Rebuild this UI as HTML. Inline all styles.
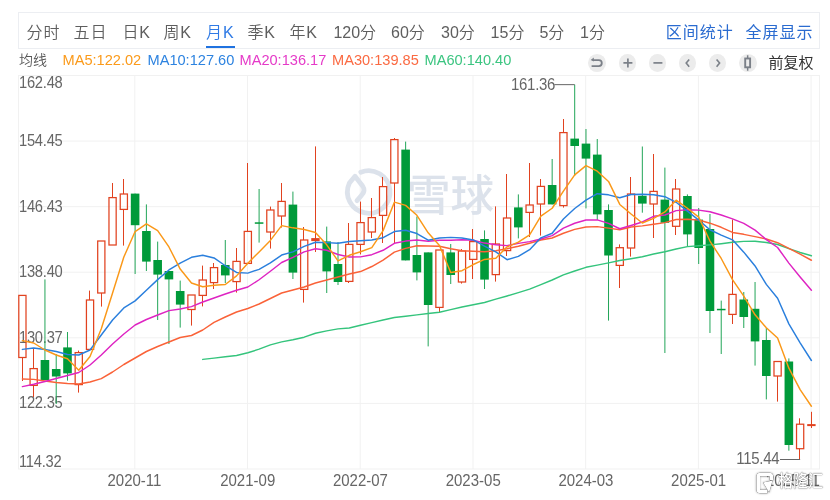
<!DOCTYPE html>
<html><head><meta charset="utf-8">
<style>
*{margin:0;padding:0;box-sizing:border-box}
html,body{width:830px;height:500px;overflow:hidden;background:#fff}
body{position:relative;font-family:"Liberation Sans","Noto Sans CJK SC",sans-serif;color:#333}
.box{position:absolute;left:18px;top:12px;width:802px;height:37px;border:1px solid #eceef2;border-right-color:#eceef2}
.tab{position:absolute;top:23px;letter-spacing:1px;font-size:16px;line-height:20px;color:#5e5e5e;white-space:nowrap;font-weight:350}
.tab.act{color:#2f7ae5}
.uline{position:absolute;left:205.6px;top:45.5px;width:29px;height:2.5px;background:#1f72e0}
.rt{position:absolute;top:23px;letter-spacing:1px;font-size:16px;line-height:20px;color:#2a6bd0;white-space:nowrap;font-weight:400}
.leg{position:absolute;top:51.2px;font-size:14.6px;transform:scaleY(1.06);transform-origin:0 0;line-height:16px;white-space:nowrap}
.jx{position:absolute;left:19px;top:51.5px;font-size:14px;line-height:16px;color:#555;font-weight:350}
.fq{position:absolute;left:768.5px;top:55px;font-size:15px;line-height:16px;color:#333}
.ic{position:absolute;top:54px;width:17.8px;height:17.8px;border-radius:50%;background:#ececec}
.ic svg{position:absolute;left:0;top:0}
.yl{position:absolute;left:19.3px;font-size:15px;line-height:15px;letter-spacing:-0.25px;transform:scale(0.98,1.1);transform-origin:0 50%;color:#666;white-space:nowrap}
.xl{position:absolute;top:473px;font-size:15px;line-height:15px;transform:scale(1,1.08);transform-origin:0 50%;color:#666;white-space:nowrap}
.mk{position:absolute;font-size:15px;line-height:15px;letter-spacing:-0.3px;transform:scale(1,1.08);transform-origin:0 50%;color:#666}
.glh{position:absolute;left:777.5px;top:471.2px;font-size:17.5px;line-height:21px;color:#fff;font-family:"Liberation Sans","Noto Sans CJK SC",sans-serif;font-weight:500;transform:scaleX(0.86);transform-origin:0 0;text-shadow:0 0 1px rgba(0,0,0,0.75),0 0 2px rgba(0,0,0,0.3)}
svg.chart{position:absolute;left:0;top:0}
</style></head><body>
<div class="box"></div>
<span class="tab" style="left:26.4px;letter-spacing:1px">分时</span>
<span class="tab" style="left:73.6px;letter-spacing:1px">五日</span>
<span class="tab" style="left:122.5px;letter-spacing:0.8px">日K</span>
<span class="tab" style="left:163.5px;letter-spacing:0.8px">周K</span>
<span class="tab act" style="left:206.1px;letter-spacing:0.8px">月K</span>
<span class="tab" style="left:247.5px;letter-spacing:0.8px">季K</span>
<span class="tab" style="left:289.5px;letter-spacing:0.8px">年K</span>
<span class="tab" style="left:333.4px;letter-spacing:0">120分</span>
<span class="tab" style="left:391.0px;letter-spacing:0">60分</span>
<span class="tab" style="left:441.0px;letter-spacing:0">30分</span>
<span class="tab" style="left:490.6px;letter-spacing:0">15分</span>
<span class="tab" style="left:539.4px;letter-spacing:0">5分</span>
<span class="tab" style="left:580.0px;letter-spacing:0">1分</span>
<div class="uline"></div>
<span class="rt" style="left:665.8px">区间统计</span>
<span class="rt" style="left:745.6px">全屏显示</span>
<span class="jx">均线</span>
<span class="leg" style="left:62.5px;color:#fb9a1a">MA5:122.02</span>
<span class="leg" style="left:147.5px;color:#2d83e0">MA10:127.60</span>
<span class="leg" style="left:239.5px;color:#e53ac8">MA20:136.17</span>
<span class="leg" style="left:332px;color:#fb6a42">MA30:139.85</span>
<span class="leg" style="left:424.5px;color:#3cc581">MA60:140.40</span>
<div class="ic" style="left:588.4px"><svg width="17.8" height="17.8" viewBox="0 0 17.8 17.8"><path d="M4.6 6.1 H10.8 A3 3 0 0 1 10.8 12.1 H3.6" fill="none" stroke="#7b8088" stroke-width="1.8"/><path d="M2.6 6.1 L5.8 3.4 L5.8 7.6 Z" fill="#7b8088"/></svg></div>
<div class="ic" style="left:618.5px"><svg width="17.8" height="17.8" viewBox="0 0 17.8 17.8"><path d="M4.4 8.9 H13.4 M8.9 4.4 V13.4" fill="none" stroke="#7b8088" stroke-width="1.7"/></svg></div>
<div class="ic" style="left:648.7px"><svg width="17.8" height="17.8" viewBox="0 0 17.8 17.8"><path d="M4.4 8.9 H13.4" fill="none" stroke="#7b8088" stroke-width="1.7"/></svg></div>
<div class="ic" style="left:678.5px"><svg width="17.8" height="17.8" viewBox="0 0 17.8 17.8"><path d="M10.2 5.5 L7.2 9.1 L10.2 12.7" fill="none" stroke="#7b8088" stroke-width="1.6"/></svg></div>
<div class="ic" style="left:708.7px"><svg width="17.8" height="17.8" viewBox="0 0 17.8 17.8"><path d="M7.6 5.5 L10.6 9.1 L7.6 12.7" fill="none" stroke="#7b8088" stroke-width="1.6"/></svg></div>
<div class="ic" style="left:738.9px"><svg width="17.8" height="17.8" viewBox="0 0 17.8 17.8"><rect x="6.2" y="4.5" width="4.9" height="8.8" fill="none" stroke="#7b8088" stroke-width="1.9"/><path d="M8.65 1.3 V4.5 M8.65 13.3 V16.7" stroke="#7b8088" stroke-width="1.5"/></svg></div>
<span class="fq">前复权</span>
<svg class="chart" width="830" height="500" viewBox="0 0 830 500">
<line x1="18" y1="141.1" x2="819.5" y2="141.1" stroke="#f1f1f1" stroke-width="1"/>
<line x1="18" y1="206.7" x2="819.5" y2="206.7" stroke="#f1f1f1" stroke-width="1"/>
<line x1="18" y1="272.2" x2="819.5" y2="272.2" stroke="#f1f1f1" stroke-width="1"/>
<line x1="18" y1="337.8" x2="819.5" y2="337.8" stroke="#f1f1f1" stroke-width="1"/>
<line x1="18" y1="403.4" x2="819.5" y2="403.4" stroke="#f1f1f1" stroke-width="1"/>
<line x1="134.8" y1="75.5" x2="134.8" y2="469" stroke="#f1f1f1" stroke-width="1"/>
<line x1="247.5" y1="75.5" x2="247.5" y2="469" stroke="#f1f1f1" stroke-width="1"/>
<line x1="360.2" y1="75.5" x2="360.2" y2="469" stroke="#f1f1f1" stroke-width="1"/>
<line x1="473.0" y1="75.5" x2="473.0" y2="469" stroke="#f1f1f1" stroke-width="1"/>
<line x1="585.7" y1="75.5" x2="585.7" y2="469" stroke="#f1f1f1" stroke-width="1"/>
<line x1="698.4" y1="75.5" x2="698.4" y2="469" stroke="#f1f1f1" stroke-width="1"/>
<line x1="811.1" y1="75.5" x2="811.1" y2="469" stroke="#f1f1f1" stroke-width="1"/>
<rect x="18.5" y="75.5" width="801" height="393.5" fill="none" stroke="#f1f1f1" stroke-width="1"/>
</svg>
<svg class="chart" width="830" height="500" viewBox="0 0 830 500"><g fill="none" stroke="#dce2eb" stroke-width="4.8" stroke-linecap="round" stroke-linejoin="round"><path d="M360.8 172.2 A21.3 21.3 0 1 1 349.4 183 L355 176.2 L362.6 186 Q365.8 190.6 361.6 195.2 L357 200.6"/></g>
<text x="407" y="210.5" font-family="Liberation Sans, Noto Sans CJK SC, sans-serif" font-weight="500" font-size="43.5" fill="#dce2eb">雪球</text></svg>
<span class="yl" style="top:73.8px">162.48</span>
<span class="yl" style="top:132.0px">154.45</span>
<span class="yl" style="top:197.6px">146.43</span>
<span class="yl" style="top:263.1px">138.40</span>
<span class="yl" style="top:328.7px">130.37</span>
<span class="yl" style="top:394.3px">122.35</span>
<span class="yl" style="top:452.9px">114.32</span>
<span class="xl" style="left:107.5px">2020-11</span>
<span class="xl" style="left:220.2px">2021-09</span>
<span class="xl" style="left:332.9px">2022-07</span>
<span class="xl" style="left:445.7px">2023-05</span>
<span class="xl" style="left:558.4px">2024-03</span>
<span class="xl" style="left:671.1px">2025-01</span>
<span class="xl" style="left:766px">2025-11</span>
<svg class="chart" width="830" height="500" viewBox="0 0 830 500">
<line x1="22.50" y1="295.4" x2="22.50" y2="295.4" stroke="#e1421f"/>
<line x1="22.50" y1="357.5" x2="22.50" y2="381" stroke="#e1421f"/>
<rect x="18.80" y="295.4" width="7.2" height="62.10" fill="none" stroke="#e1421f" stroke-width="1.25"/>
<line x1="33.50" y1="349" x2="33.50" y2="368.6" stroke="#e1421f"/>
<line x1="33.50" y1="385.4" x2="33.50" y2="397" stroke="#e1421f"/>
<rect x="30.07" y="368.6" width="7.2" height="16.80" fill="none" stroke="#e1421f" stroke-width="1.25"/>
<line x1="44.94" y1="279.4" x2="44.94" y2="380" stroke="#22a558"/>
<rect x="40.64" y="360" width="8.6" height="20.00" fill="#009a3a"/>
<line x1="56.21" y1="354" x2="56.21" y2="404" stroke="#22a558"/>
<rect x="51.91" y="369" width="8.6" height="7.50" fill="#009a3a"/>
<line x1="67.49" y1="332" x2="67.49" y2="380.6" stroke="#22a558"/>
<rect x="63.19" y="347.4" width="8.6" height="26.00" fill="#009a3a"/>
<line x1="78.50" y1="350.6" x2="78.50" y2="352.6" stroke="#e1421f"/>
<line x1="78.50" y1="384.6" x2="78.50" y2="392.6" stroke="#e1421f"/>
<rect x="75.16" y="352.6" width="7.2" height="32.00" fill="none" stroke="#e1421f" stroke-width="1.25"/>
<line x1="89.50" y1="290.6" x2="89.50" y2="300" stroke="#e1421f"/>
<line x1="89.50" y1="349.4" x2="89.50" y2="349.4" stroke="#e1421f"/>
<rect x="86.43" y="300" width="7.2" height="49.40" fill="none" stroke="#e1421f" stroke-width="1.25"/>
<line x1="101.50" y1="241" x2="101.50" y2="241" stroke="#e1421f"/>
<line x1="101.50" y1="293" x2="101.50" y2="306.6" stroke="#e1421f"/>
<rect x="97.70" y="241" width="7.2" height="52.00" fill="none" stroke="#e1421f" stroke-width="1.25"/>
<line x1="112.50" y1="183" x2="112.50" y2="197.6" stroke="#e1421f"/>
<line x1="112.50" y1="245" x2="112.50" y2="245" stroke="#e1421f"/>
<rect x="108.97" y="197.6" width="7.2" height="47.40" fill="none" stroke="#e1421f" stroke-width="1.25"/>
<line x1="123.50" y1="179" x2="123.50" y2="194" stroke="#e1421f"/>
<line x1="123.50" y1="209.4" x2="123.50" y2="245.6" stroke="#e1421f"/>
<rect x="120.24" y="194" width="7.2" height="15.40" fill="none" stroke="#e1421f" stroke-width="1.25"/>
<line x1="135.12" y1="193.6" x2="135.12" y2="274" stroke="#22a558"/>
<rect x="130.81" y="193.6" width="8.6" height="31.60" fill="#009a3a"/>
<line x1="146.39" y1="204.4" x2="146.39" y2="271" stroke="#22a558"/>
<rect x="142.09" y="231" width="8.6" height="30.60" fill="#009a3a"/>
<line x1="157.66" y1="241.6" x2="157.66" y2="320" stroke="#22a558"/>
<rect x="153.36" y="260" width="8.6" height="14.60" fill="#009a3a"/>
<line x1="168.93" y1="271" x2="168.93" y2="344" stroke="#22a558"/>
<rect x="164.63" y="271" width="8.6" height="8.40" fill="#009a3a"/>
<line x1="180.20" y1="280.6" x2="180.20" y2="327.6" stroke="#22a558"/>
<rect x="175.90" y="291" width="8.6" height="13.60" fill="#009a3a"/>
<line x1="191.50" y1="295" x2="191.50" y2="295" stroke="#e1421f"/>
<line x1="191.50" y1="309.5" x2="191.50" y2="325.6" stroke="#e1421f"/>
<rect x="187.87" y="295" width="7.2" height="14.50" fill="none" stroke="#e1421f" stroke-width="1.25"/>
<line x1="202.50" y1="265.6" x2="202.50" y2="280" stroke="#e1421f"/>
<line x1="202.50" y1="295.4" x2="202.50" y2="306.4" stroke="#e1421f"/>
<rect x="199.14" y="280" width="7.2" height="15.40" fill="none" stroke="#e1421f" stroke-width="1.25"/>
<line x1="213.50" y1="263" x2="213.50" y2="267.6" stroke="#e1421f"/>
<line x1="213.50" y1="282.6" x2="213.50" y2="289" stroke="#e1421f"/>
<rect x="210.42" y="267.6" width="7.2" height="15.00" fill="none" stroke="#e1421f" stroke-width="1.25"/>
<line x1="225.29" y1="240" x2="225.29" y2="283" stroke="#22a558"/>
<rect x="220.99" y="265" width="8.6" height="10.40" fill="#009a3a"/>
<line x1="236.50" y1="248" x2="236.50" y2="261.4" stroke="#e1421f"/>
<line x1="236.50" y1="281.6" x2="236.50" y2="292.6" stroke="#e1421f"/>
<rect x="232.96" y="261.4" width="7.2" height="20.20" fill="none" stroke="#e1421f" stroke-width="1.25"/>
<line x1="247.50" y1="163" x2="247.50" y2="231.4" stroke="#e1421f"/>
<line x1="247.50" y1="263.4" x2="247.50" y2="263.4" stroke="#e1421f"/>
<rect x="244.23" y="231.4" width="7.2" height="32.00" fill="none" stroke="#e1421f" stroke-width="1.25"/>
<line x1="259.10" y1="189" x2="259.10" y2="242.6" stroke="#22a558"/>
<rect x="254.80" y="222.3" width="8.6" height="1.50" fill="#009a3a"/>
<line x1="270.50" y1="206.6" x2="270.50" y2="210" stroke="#e1421f"/>
<line x1="270.50" y1="232" x2="270.50" y2="248.6" stroke="#e1421f"/>
<rect x="266.77" y="210" width="7.2" height="22.00" fill="none" stroke="#e1421f" stroke-width="1.25"/>
<line x1="281.50" y1="183" x2="281.50" y2="201.4" stroke="#e1421f"/>
<line x1="281.50" y1="216" x2="281.50" y2="227.6" stroke="#e1421f"/>
<rect x="278.04" y="201.4" width="7.2" height="14.60" fill="none" stroke="#e1421f" stroke-width="1.25"/>
<line x1="292.92" y1="191.6" x2="292.92" y2="279" stroke="#22a558"/>
<rect x="288.62" y="204.6" width="8.6" height="68.00" fill="#009a3a"/>
<line x1="303.50" y1="227" x2="303.50" y2="240" stroke="#e1421f"/>
<line x1="303.50" y1="289.4" x2="303.50" y2="302.6" stroke="#e1421f"/>
<rect x="300.59" y="240" width="7.2" height="49.40" fill="none" stroke="#e1421f" stroke-width="1.25"/>
<line x1="315.50" y1="146.4" x2="315.50" y2="252" stroke="#e1421f"/>
<rect x="311.26" y="238.10" width="8.4" height="3.00" fill="#e1421f"/>
<line x1="326.73" y1="226.6" x2="326.73" y2="293" stroke="#22a558"/>
<rect x="322.43" y="241.4" width="8.6" height="30.00" fill="#009a3a"/>
<line x1="338.00" y1="242" x2="338.00" y2="285" stroke="#22a558"/>
<rect x="333.70" y="264" width="8.6" height="18.00" fill="#009a3a"/>
<line x1="348.50" y1="223" x2="348.50" y2="244.4" stroke="#e1421f"/>
<line x1="348.50" y1="281.4" x2="348.50" y2="283" stroke="#e1421f"/>
<rect x="345.67" y="244.4" width="7.2" height="37.00" fill="none" stroke="#e1421f" stroke-width="1.25"/>
<line x1="360.50" y1="201.6" x2="360.50" y2="222.6" stroke="#e1421f"/>
<line x1="360.50" y1="244.4" x2="360.50" y2="254.4" stroke="#e1421f"/>
<rect x="356.94" y="222.6" width="7.2" height="21.80" fill="none" stroke="#e1421f" stroke-width="1.25"/>
<line x1="371.50" y1="198" x2="371.50" y2="217.6" stroke="#e1421f"/>
<line x1="371.50" y1="232" x2="371.50" y2="238" stroke="#e1421f"/>
<rect x="368.22" y="217.6" width="7.2" height="14.40" fill="none" stroke="#e1421f" stroke-width="1.25"/>
<line x1="382.50" y1="177" x2="382.50" y2="186.6" stroke="#e1421f"/>
<line x1="382.50" y1="215.4" x2="382.50" y2="243" stroke="#e1421f"/>
<rect x="379.49" y="186.6" width="7.2" height="28.80" fill="none" stroke="#e1421f" stroke-width="1.25"/>
<line x1="394.50" y1="138" x2="394.50" y2="139.6" stroke="#e1421f"/>
<line x1="394.50" y1="183" x2="394.50" y2="243" stroke="#e1421f"/>
<rect x="390.76" y="139.6" width="7.2" height="43.40" fill="none" stroke="#e1421f" stroke-width="1.25"/>
<line x1="405.63" y1="141.6" x2="405.63" y2="260.4" stroke="#22a558"/>
<rect x="401.33" y="149.6" width="8.6" height="110.80" fill="#009a3a"/>
<line x1="416.90" y1="216.5" x2="416.90" y2="280.4" stroke="#22a558"/>
<rect x="412.60" y="255" width="8.6" height="17.40" fill="#009a3a"/>
<line x1="428.17" y1="252.4" x2="428.17" y2="346.4" stroke="#22a558"/>
<rect x="423.87" y="252.4" width="8.6" height="52.60" fill="#009a3a"/>
<line x1="439.50" y1="250" x2="439.50" y2="250" stroke="#e1421f"/>
<line x1="439.50" y1="307.4" x2="439.50" y2="312.4" stroke="#e1421f"/>
<rect x="435.85" y="250" width="7.2" height="57.40" fill="none" stroke="#e1421f" stroke-width="1.25"/>
<line x1="450.72" y1="244" x2="450.72" y2="284" stroke="#22a558"/>
<rect x="446.42" y="252.4" width="8.6" height="22.60" fill="#009a3a"/>
<line x1="461.50" y1="249" x2="461.50" y2="251" stroke="#e1421f"/>
<line x1="461.50" y1="282" x2="461.50" y2="283.6" stroke="#e1421f"/>
<rect x="458.39" y="251" width="7.2" height="31.00" fill="none" stroke="#e1421f" stroke-width="1.25"/>
<line x1="472.50" y1="229" x2="472.50" y2="241.6" stroke="#e1421f"/>
<line x1="472.50" y1="259.4" x2="472.50" y2="279" stroke="#e1421f"/>
<rect x="469.66" y="241.6" width="7.2" height="17.80" fill="none" stroke="#e1421f" stroke-width="1.25"/>
<line x1="484.53" y1="230.4" x2="484.53" y2="289" stroke="#22a558"/>
<rect x="480.23" y="239" width="8.6" height="40.60" fill="#009a3a"/>
<line x1="495.50" y1="206.4" x2="495.50" y2="244" stroke="#e1421f"/>
<line x1="495.50" y1="274.6" x2="495.50" y2="281.6" stroke="#e1421f"/>
<rect x="492.20" y="244" width="7.2" height="30.60" fill="none" stroke="#e1421f" stroke-width="1.25"/>
<line x1="506.50" y1="174" x2="506.50" y2="218" stroke="#e1421f"/>
<line x1="506.50" y1="250.6" x2="506.50" y2="256" stroke="#e1421f"/>
<rect x="503.47" y="218" width="7.2" height="32.60" fill="none" stroke="#e1421f" stroke-width="1.25"/>
<line x1="518.35" y1="194.4" x2="518.35" y2="238.4" stroke="#22a558"/>
<rect x="514.05" y="207.4" width="8.6" height="20.00" fill="#009a3a"/>
<line x1="529.50" y1="163" x2="529.50" y2="205" stroke="#e1421f"/>
<line x1="529.50" y1="212.4" x2="529.50" y2="237" stroke="#e1421f"/>
<rect x="526.02" y="205" width="7.2" height="7.40" fill="none" stroke="#e1421f" stroke-width="1.25"/>
<line x1="540.50" y1="179" x2="540.50" y2="186.4" stroke="#e1421f"/>
<line x1="540.50" y1="204" x2="540.50" y2="235.6" stroke="#e1421f"/>
<rect x="537.29" y="186.4" width="7.2" height="17.60" fill="none" stroke="#e1421f" stroke-width="1.25"/>
<line x1="552.16" y1="159" x2="552.16" y2="204.4" stroke="#22a558"/>
<rect x="547.86" y="185" width="8.6" height="19.40" fill="#009a3a"/>
<line x1="563.50" y1="119" x2="563.50" y2="132.6" stroke="#e1421f"/>
<line x1="563.50" y1="205.6" x2="563.50" y2="207.6" stroke="#e1421f"/>
<rect x="559.83" y="132.6" width="7.2" height="73.00" fill="none" stroke="#e1421f" stroke-width="1.25"/>
<line x1="574.70" y1="84.65" x2="574.70" y2="176" stroke="#22a558"/>
<rect x="570.40" y="138.6" width="8.6" height="7.40" fill="#009a3a"/>
<line x1="585.97" y1="129" x2="585.97" y2="208.4" stroke="#22a558"/>
<rect x="581.67" y="143.6" width="8.6" height="15.00" fill="#009a3a"/>
<line x1="597.25" y1="139" x2="597.25" y2="220" stroke="#22a558"/>
<rect x="592.95" y="154.6" width="8.6" height="59.80" fill="#009a3a"/>
<line x1="608.52" y1="204.4" x2="608.52" y2="320.6" stroke="#22a558"/>
<rect x="604.22" y="210" width="8.6" height="45.50" fill="#009a3a"/>
<line x1="619.50" y1="244.4" x2="619.50" y2="247.7" stroke="#e1421f"/>
<line x1="619.50" y1="265.4" x2="619.50" y2="288" stroke="#e1421f"/>
<rect x="616.19" y="247.7" width="7.2" height="17.70" fill="none" stroke="#e1421f" stroke-width="1.25"/>
<line x1="630.50" y1="177" x2="630.50" y2="194" stroke="#e1421f"/>
<line x1="630.50" y1="248" x2="630.50" y2="256.6" stroke="#e1421f"/>
<rect x="627.46" y="194" width="7.2" height="54.00" fill="none" stroke="#e1421f" stroke-width="1.25"/>
<line x1="642.33" y1="146.5" x2="642.33" y2="212.7" stroke="#22a558"/>
<rect x="638.03" y="195.8" width="8.6" height="7.80" fill="#009a3a"/>
<line x1="653.50" y1="154" x2="653.50" y2="191.4" stroke="#e1421f"/>
<line x1="653.50" y1="204" x2="653.50" y2="238" stroke="#e1421f"/>
<rect x="650.00" y="191.4" width="7.2" height="12.60" fill="none" stroke="#e1421f" stroke-width="1.25"/>
<line x1="664.88" y1="167.6" x2="664.88" y2="353" stroke="#22a558"/>
<rect x="660.58" y="199.6" width="8.6" height="23.20" fill="#009a3a"/>
<line x1="675.50" y1="179" x2="675.50" y2="189" stroke="#e1421f"/>
<line x1="675.50" y1="226.3" x2="675.50" y2="235" stroke="#e1421f"/>
<rect x="672.55" y="189" width="7.2" height="37.30" fill="none" stroke="#e1421f" stroke-width="1.25"/>
<line x1="687.42" y1="194.4" x2="687.42" y2="246.6" stroke="#22a558"/>
<rect x="683.12" y="196" width="8.6" height="38.40" fill="#009a3a"/>
<line x1="698.69" y1="208" x2="698.69" y2="264" stroke="#22a558"/>
<rect x="694.39" y="219.6" width="8.6" height="28.40" fill="#009a3a"/>
<line x1="709.96" y1="214" x2="709.96" y2="333" stroke="#22a558"/>
<rect x="705.66" y="229" width="8.6" height="82.00" fill="#009a3a"/>
<line x1="721.23" y1="300.6" x2="721.23" y2="354" stroke="#22a558"/>
<rect x="716.93" y="308.8" width="8.6" height="1.50" fill="#009a3a"/>
<line x1="732.50" y1="219.5" x2="732.50" y2="294.4" stroke="#e1421f"/>
<line x1="732.50" y1="314.4" x2="732.50" y2="324" stroke="#e1421f"/>
<rect x="728.90" y="294.4" width="7.2" height="20.00" fill="none" stroke="#e1421f" stroke-width="1.25"/>
<line x1="743.78" y1="292" x2="743.78" y2="328" stroke="#22a558"/>
<rect x="739.48" y="299.5" width="8.6" height="17.50" fill="#009a3a"/>
<line x1="755.05" y1="282" x2="755.05" y2="365.6" stroke="#22a558"/>
<rect x="750.75" y="308.8" width="8.6" height="32.60" fill="#009a3a"/>
<line x1="766.32" y1="328" x2="766.32" y2="399.4" stroke="#22a558"/>
<rect x="762.02" y="340" width="8.6" height="36.00" fill="#009a3a"/>
<line x1="777.50" y1="361.5" x2="777.50" y2="361.5" stroke="#e1421f"/>
<line x1="777.50" y1="376" x2="777.50" y2="401.6" stroke="#e1421f"/>
<rect x="773.99" y="361.5" width="7.2" height="14.50" fill="none" stroke="#e1421f" stroke-width="1.25"/>
<line x1="788.86" y1="358.4" x2="788.86" y2="450.7" stroke="#22a558"/>
<rect x="784.56" y="361.5" width="8.6" height="83.50" fill="#009a3a"/>
<line x1="799.50" y1="418.3" x2="799.50" y2="424.2" stroke="#e1421f"/>
<line x1="799.50" y1="448.7" x2="799.50" y2="459.5" stroke="#e1421f"/>
<rect x="796.53" y="424.2" width="7.2" height="24.50" fill="none" stroke="#e1421f" stroke-width="1.25"/>
<line x1="811.50" y1="411.8" x2="811.50" y2="428" stroke="#e1421f"/>
<rect x="807.20" y="424.10" width="8.4" height="2.00" fill="#e1421f"/>
<polyline points="202.74,359.40 214.02,358.13 225.29,356.83 236.56,355.47 247.83,352.74 259.10,349.18 270.37,344.90 281.64,341.88 292.92,339.80 304.19,337.17 315.46,333.28 326.73,330.85 338.00,328.85 349.27,327.93 360.54,325.25 371.82,322.59 383.09,320.06 394.36,317.56 405.63,316.23 416.90,314.89 428.17,313.58 439.45,312.30 450.72,309.65 461.99,307.00 473.26,304.75 484.53,302.46 495.80,299.07 507.07,295.93 518.35,292.60 529.62,289.15 540.89,284.64 552.16,280.00 563.43,274.85 574.70,271.06 585.97,267.33 597.25,265.11 608.52,262.89 619.79,260.47 631.06,258.69 642.33,256.82 653.60,254.00 664.88,251.78 676.15,248.96 687.42,246.60 698.69,245.81 709.96,244.85 721.23,243.69 732.50,242.32 743.78,241.38 755.05,241.19 766.32,242.46 777.59,244.47 788.86,248.59 800.13,252.43 811.40,255.75" fill="none" stroke="#34c47c" stroke-width="1.45" stroke-linejoin="round" stroke-linecap="round"/>
<polyline points="22.40,379.00 33.67,379.40 44.94,381.00 56.21,382.50 67.49,383.50 78.76,384.00 90.03,382.00 101.30,378.60 112.57,372.00 123.84,364.50 135.12,358.00 146.39,351.50 157.66,346.50 168.93,342.00 180.20,337.50 191.47,335.50 202.74,330.00 214.02,322.40 225.29,317.00 236.56,312.00 247.83,308.50 259.10,304.00 270.37,298.50 281.64,293.00 292.92,290.00 304.19,287.00 315.46,283.00 326.73,280.00 338.00,277.00 349.27,273.98 360.54,271.56 371.82,266.52 383.09,260.08 394.36,252.18 405.63,248.41 416.90,245.74 428.17,245.91 439.45,246.21 450.72,248.79 461.99,250.69 473.26,251.23 484.53,251.83 495.80,250.81 507.07,248.77 518.35,246.19 529.62,243.19 540.89,240.07 552.16,237.97 563.43,233.21 574.70,229.36 585.97,226.93 597.25,226.62 608.52,228.14 619.79,229.68 631.06,227.06 642.33,225.85 653.60,224.27 664.88,222.65 676.15,219.55 687.42,219.22 698.69,220.07 709.96,223.18 721.23,227.29 732.50,232.45 743.78,234.34 755.05,236.64 766.32,239.01 777.59,242.72 788.86,248.39 800.13,254.16 811.40,260.26" fill="none" stroke="#fa6238" stroke-width="1.45" stroke-linejoin="round" stroke-linecap="round"/>
<polyline points="22.40,386.60 33.67,384.30 44.94,381.50 56.21,378.50 67.49,375.50 78.76,372.50 90.03,365.00 101.30,355.00 112.57,344.00 123.84,334.00 135.12,325.00 146.39,319.50 157.66,315.00 168.93,310.60 180.20,309.00 191.47,306.60 202.74,302.00 214.02,298.00 225.29,294.00 236.56,290.19 247.83,287.00 259.10,279.75 270.37,271.25 281.64,262.50 292.92,257.46 304.19,251.83 315.46,248.76 326.73,250.28 338.00,254.50 349.27,257.02 360.54,256.89 371.82,254.69 383.09,250.29 394.36,243.30 405.63,241.09 416.90,239.96 428.17,241.21 439.45,240.33 450.72,240.31 461.99,239.79 473.26,240.30 484.53,243.09 495.80,244.79 507.07,245.62 518.35,243.36 529.62,241.61 540.89,239.00 552.16,235.65 563.43,228.18 574.70,223.26 585.97,220.06 597.25,219.90 608.52,223.34 619.79,228.75 631.06,225.43 642.33,221.99 653.60,216.31 664.88,214.95 676.15,210.65 687.42,209.82 698.69,210.14 709.96,211.71 721.23,215.01 732.50,218.83 743.78,223.31 755.05,230.13 766.32,239.61 777.59,247.47 788.86,263.09 800.13,277.00 811.40,290.30" fill="none" stroke="#de24c2" stroke-width="1.45" stroke-linejoin="round" stroke-linecap="round"/>
<polyline points="22.40,349.40 33.67,348.00 44.94,349.50 56.21,351.50 67.49,354.50 78.76,355.00 90.03,350.00 101.30,335.00 112.57,320.00 123.84,307.91 135.12,300.89 146.39,290.19 157.66,279.65 168.93,269.94 180.20,263.06 191.47,257.30 202.74,255.30 214.02,257.96 225.29,265.74 236.56,272.48 247.83,273.10 259.10,269.32 270.37,262.86 281.64,255.06 292.92,251.86 304.19,246.36 315.46,242.22 326.73,242.60 338.00,243.26 349.27,241.56 360.54,240.68 371.82,240.06 383.09,237.72 394.36,231.54 405.63,230.32 416.90,233.56 428.17,240.20 439.45,238.06 450.72,237.36 461.99,238.02 473.26,239.92 484.53,246.12 495.80,251.86 507.07,259.70 518.35,256.40 529.62,249.66 540.89,237.80 552.16,233.24 563.43,219.00 574.70,208.50 585.97,200.20 597.25,193.68 608.52,194.83 619.79,197.80 631.06,194.46 642.33,194.32 653.60,194.82 664.88,196.66 676.15,202.30 687.42,211.14 698.69,220.08 709.96,229.74 721.23,235.19 732.50,239.86 743.78,252.16 755.05,265.94 766.32,284.40 777.59,298.27 788.86,323.87 800.13,342.85 811.40,360.51" fill="none" stroke="#2a7fdd" stroke-width="1.45" stroke-linejoin="round" stroke-linecap="round"/>
<polyline points="22.40,340.60 33.67,343.00 44.94,350.00 56.21,355.00 67.49,358.78 78.76,370.22 90.03,356.50 101.30,328.70 112.57,292.92 123.84,257.04 135.12,231.56 146.39,223.88 157.66,230.60 168.93,246.96 180.20,269.08 191.47,283.04 202.74,286.72 214.02,285.32 225.29,284.52 236.56,275.88 247.83,263.16 259.10,251.92 270.37,240.40 281.64,225.60 292.92,227.84 304.19,229.56 315.46,232.52 326.73,244.80 338.00,260.92 349.27,255.28 360.54,251.80 371.82,247.60 383.09,230.64 394.36,202.16 405.63,205.36 416.90,215.32 428.17,232.80 439.45,245.48 450.72,272.56 461.99,270.68 473.26,264.52 484.53,259.44 495.80,258.24 507.07,246.84 518.35,242.12 529.62,234.80 540.89,216.16 552.16,208.24 563.43,191.16 574.70,174.88 585.97,165.60 597.25,171.20 608.52,181.42 619.79,204.44 631.06,214.04 642.33,223.04 653.60,218.44 664.88,211.90 676.15,200.16 687.42,208.24 698.69,217.12 709.96,241.04 721.23,258.48 732.50,279.56 743.78,296.08 755.05,314.76 766.32,327.76 777.59,338.06 788.86,368.18 800.13,389.62 811.40,406.26" fill="none" stroke="#fa9818" stroke-width="1.45" stroke-linejoin="round" stroke-linecap="round"/>
<polyline points="554.4,84.65 574.70,84.65" fill="none" stroke="#666" stroke-width="1"/>
<polyline points="780,459.5 800.13,459.5" fill="none" stroke="#666" stroke-width="1"/>
</svg>
<span class="mk" style="left:511px;top:76.9px">161.36</span>
<span class="mk" style="left:736.3px;top:450.7px">115.44</span>
<svg width="22" height="23" viewBox="0 0 22 23" style="position:absolute;left:753.5px;top:472px;filter:drop-shadow(0 0 0.6px rgba(0,0,0,0.9)) drop-shadow(0 0 0.8px rgba(0,0,0,0.35))"><path d="M17.5 8.2 V4.5 Q17.5 2.5 15.5 2.5 H6.2 Q4.2 2.5 4.2 4.5 V17.5 Q4.2 19.5 6.2 19.5 H13.5" fill="none" stroke="#fff" stroke-width="3.6"/><path d="M9 10.6 L18.6 8.4 L15.2 20.6 Z" fill="#fff"/></svg>
<div class="glh">格隆汇</div>
</body></html>
